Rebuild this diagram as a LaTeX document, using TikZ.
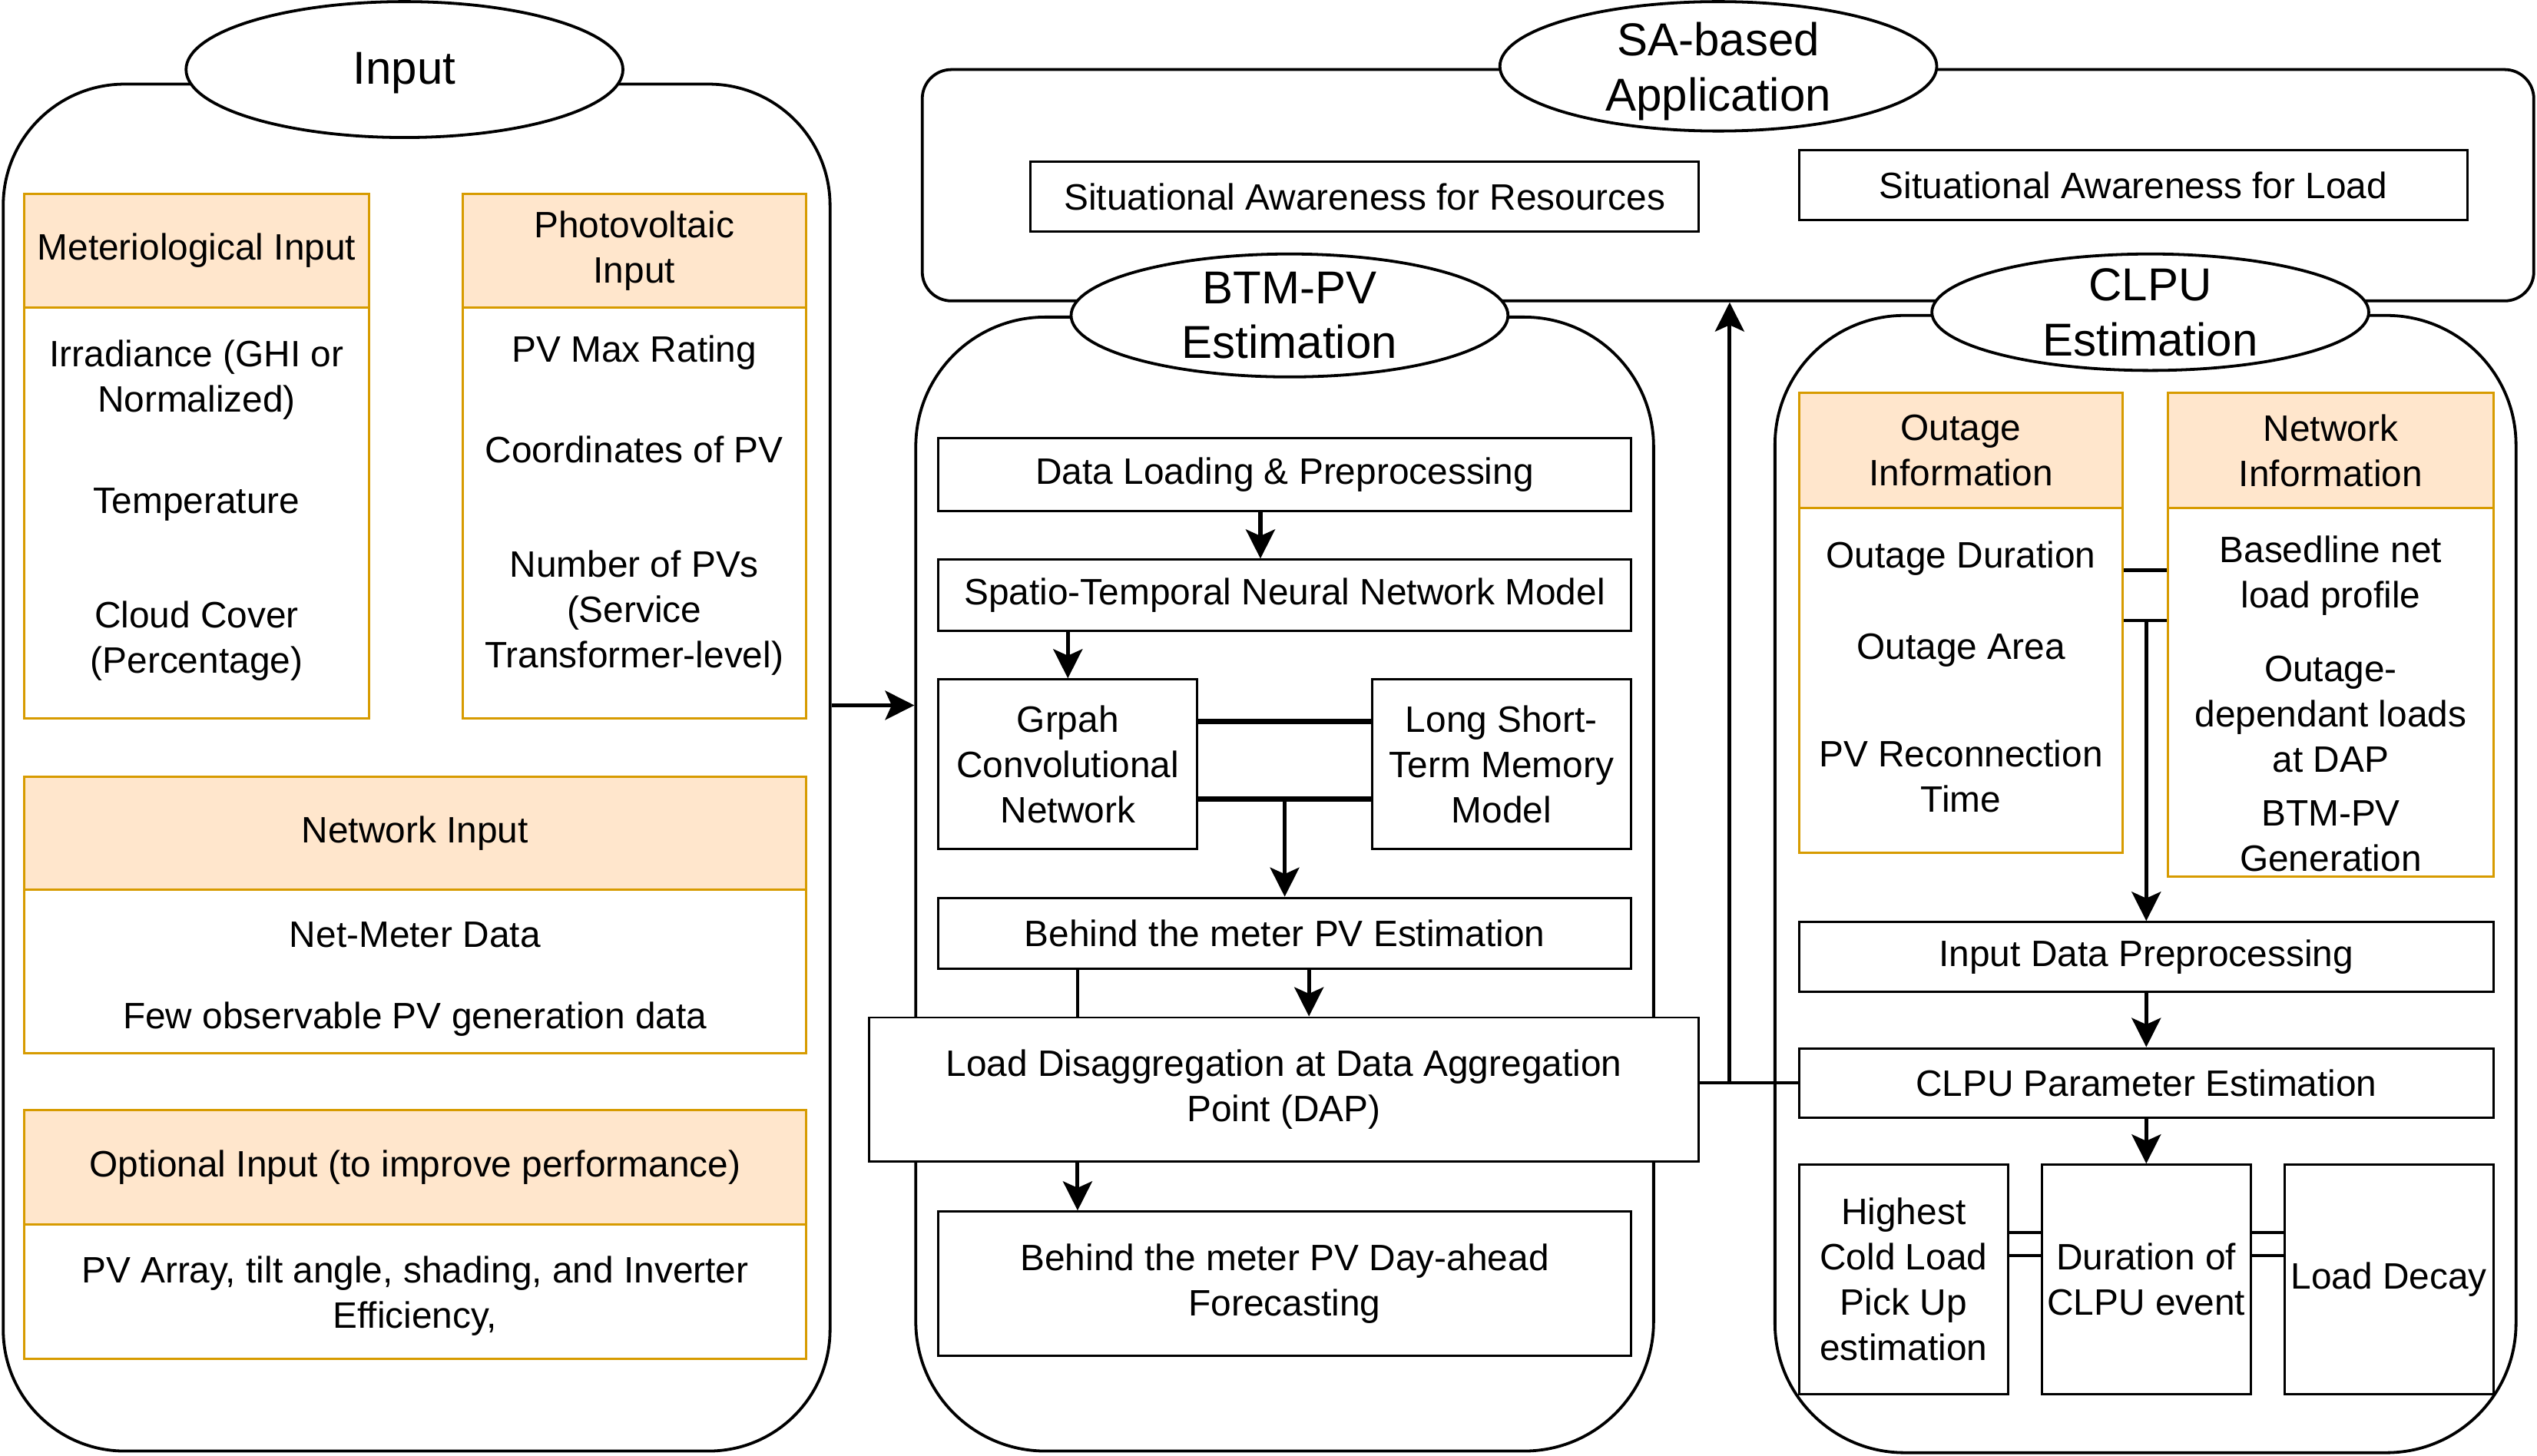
\documentclass[tikz,border=0pt]{standalone}
\usepackage{fontspec}
\setmainfont{Liberation Sans}
\usetikzlibrary{shapes.geometric,arrows.meta}
\definecolor{hdrfill}{HTML}{FFE6CC}
\definecolor{hdrline}{HTML}{D79B00}
\begin{document}
\begin{tikzpicture}[x=1pt, y=-1pt,
  panel/.style={draw=black, line width=1.8pt, fill=white},
  titleell/.style={shape=ellipse, draw=black, line width=1.8pt, fill=white, inner sep=0pt},
  titletxt/.style={align=center, font=\fontsize{28.5}{34}\selectfont},
  hdrbox/.style={draw=hdrline, fill=hdrfill, line width=1.4pt, inner sep=0pt, align=center, font=\fontsize{22.7}{28}\selectfont},
  bodybox/.style={draw=hdrline, fill=white, line width=1.4pt, inner sep=0pt},
  plainbox/.style={draw=black, fill=white, line width=1.4pt, inner sep=0pt, align=center, font=\fontsize{22.7}{28}\selectfont},
  itemtxt/.style={align=center, font=\fontsize{22.7}{28}\selectfont, yshift=-2pt},
  arr/.style={-{Stealth[length=18pt,width=18pt,inset=4pt]}, line width=2.4pt},
  ln/.style={line width=2pt},
  thk/.style={line width=3pt},
]
\useasboundingbox (0,0) rectangle (1568,900);
%%%input panel
\node[panel, rounded corners=75pt, minimum width=511pt, minimum height=845pt] (inpanel) at (257.5,474.5) {};
\node[titleell, minimum width=270pt, minimum height=84pt] (inell) at (250,43) {};
\node[titletxt, yshift=-2pt] at (inell) {Input};

\node[hdrbox, minimum width=213pt, minimum height=70pt] (methdr) at (121.5,155) {Meteriological Input};
\node[bodybox, minimum width=213pt, minimum height=254pt] (metbody) at (121.5,317) {};
\node[itemtxt] (irr) at (121.5,233) {Irradiance (GHI or\\Normalized)};
\node[itemtxt] (temp) at (121.5,310) {Temperature};
\node[itemtxt] (cloud) at (121.5,394) {Cloud Cover\\(Percentage)};

\node[hdrbox, minimum width=212pt, minimum height=70pt] (pvhdr) at (392,155) {Photovoltaic\\Input};
\node[bodybox, minimum width=212pt, minimum height=254pt] (pvbody) at (392,317) {};
\node[itemtxt] (pvmax) at (392,216) {PV Max Rating};
\node[itemtxt] (pvcoord) at (392,276) {Coordinates of PV};
\node[itemtxt] (pvnum) at (392,377) {Number of PVs\\(Service\\Transformer-level)};

\node[hdrbox, minimum width=483pt, minimum height=70pt] (nethdr) at (256.5,515) {Network Input};
\node[bodybox, minimum width=483pt, minimum height=101pt] (netbody) at (256.5,600.5) {};
\node[itemtxt] (netmeter) at (256.5,576) {Net-Meter Data};
\node[itemtxt] (fewpv) at (256.5,628) {Few observable PV generation data};

\node[hdrbox, minimum width=483pt, minimum height=71pt] (opthdr) at (256.5,721.5) {Optional Input (to improve performance)};
\node[bodybox, minimum width=483pt, minimum height=83pt] (optbody) at (256.5,798.5) {};
\node[itemtxt] (optitem) at (256.5,799) {PV Array, tilt angle, shading, and Inverter\\Efficiency,};
%%%%%%%%%

%%%SA panel
\node[panel, rounded corners=18pt, minimum width=996pt, minimum height=143pt] (sapanel) at (1068,114.5) {};
\node[titleell, minimum width=270pt, minimum height=80pt] (saell) at (1062,41) {};
\node[titletxt, yshift=-3pt] at (saell) {SA-based\\Application};
\node[plainbox, minimum width=413pt, minimum height=43pt] (sares) at (843.5,121.5) {Situational Awareness for Resources};
\node[plainbox, minimum width=413pt, minimum height=43pt] (saload) at (1318.5,114.5) {Situational Awareness for Load};
%%%%%%%%%

%%%BTM-PV panel
\node[panel, rounded corners=80pt, minimum width=456pt, minimum height=701pt] (btmpanel) at (794,546.5) {};
\node[titleell, minimum width=270pt, minimum height=76pt] (btmell) at (797,195) {};
\node[titletxt] at (btmell) {BTM-PV\\Estimation};

\node[plainbox, minimum width=428pt, minimum height=45pt] (dload) at (794,293.5) {Data Loading \& Preprocessing};
\node[plainbox, minimum width=428pt, minimum height=44pt] (stnn) at (794,368) {Spatio-Temporal Neural Network Model};
\node[plainbox, minimum width=160pt, minimum height=105pt] (gcn) at (660,472.5) {Grpah\\Convolutional\\Network};
\node[plainbox, minimum width=160pt, minimum height=105pt] (lstm) at (928,472.5) {Long Short-\\Term Memory\\Model};
\node[plainbox, minimum width=428pt, minimum height=44pt] (btmest) at (794,577) {Behind the meter PV Estimation};
\node[plainbox, minimum width=513pt, minimum height=89pt] (ldis) at (793.5,673.5) {Load Disaggregation at Data Aggregation\\Point (DAP)};
\node[plainbox, minimum width=428pt, minimum height=89pt] (fcast) at (794,793.5) {Behind the meter PV Day-ahead\\Forecasting};

\draw[arr] ([xshift=-15pt]dload.south) -- ([xshift=-15pt]stnn.north);
\draw[arr] (gcn.north |- stnn.south) -- (gcn.north);
\draw[thk] ([yshift=26.5pt]gcn.east) -- ([yshift=26.5pt]lstm.west);
\coordinate (j1) at ([yshift=-21.5pt]gcn.east);
\draw[thk] (j1) -- ([yshift=-21.5pt]lstm.west);
\draw[arr] (btmest.north |- j1) -- (btmest.north);
\draw[arr] ([xshift=15pt]btmest.south) -- ([xshift=15pt]btmest.south |- ldis.north);
\draw[ln] ([xshift=-128pt]btmest.south) -- ([xshift=-128pt]btmest.south |- ldis.north);
\draw[arr] ([xshift=-128pt]btmest.south |- ldis.south) -- ([xshift=-128pt]fcast.north);
%%%%%%%%%

%%%CLPU panel
\node[panel, rounded corners=80pt, minimum width=458pt, minimum height=703pt] (clpupanel) at (1326,546.5) {};
\node[titleell, minimum width=270pt, minimum height=72pt] (clpuell) at (1329,193) {};
\node[titletxt] at (clpuell) {CLPU\\Estimation};

\node[hdrbox, minimum width=200pt, minimum height=71pt] (outhdr) at (1212,278.5) {Outage\\Information};
\node[bodybox, minimum width=200pt, minimum height=213pt] (outbody) at (1212,420.5) {};
\node[itemtxt] (outdur) at (1212,343) {Outage Duration};
\node[itemtxt] (outarea) at (1212,400) {Outage Area};
\node[itemtxt] (pvrec) at (1212,478) {PV Reconnection\\Time};

\node[hdrbox, minimum width=201pt, minimum height=71pt] (nwhdr) at (1440.5,278.5) {Network\\Information};
\node[bodybox, minimum width=201pt, minimum height=227.5pt] (nwbody) at (1440.5,428) {};
\node[itemtxt] (baseline) at (1440.5,354) {Basedline net\\load profile};
\node[itemtxt] (outdep) at (1440.5,439.5) {Outage-\\dependant loads\\at DAP};
\node[itemtxt] (btmgen) at (1440.5,515) {BTM-PV\\Generation};

\node[plainbox, minimum width=429pt, minimum height=43pt] (inprep) at (1326.5,591.5) {Input Data Preprocessing};
\node[plainbox, minimum width=429pt, minimum height=43pt] (clpupar) at (1326.5,669.5) {CLPU Parameter Estimation};
\node[plainbox, minimum width=129pt, minimum height=142pt] (hcl) at (1176.5,791) {Highest\\Cold Load\\Pick Up\\estimation};
\node[plainbox, minimum width=129pt, minimum height=142pt] (dur) at (1326.5,791) {Duration of\\CLPU event};
\node[plainbox, minimum width=129pt, minimum height=142pt] (ldec) at (1476.5,791) {Load Decay};

\draw[ln] ([yshift=68pt]outbody.east) -- ([yshift=68pt]outbody.east -| nwbody.west);
\coordinate (j2) at ([yshift=37pt]outbody.east);
\draw[ln] (j2) -- (j2 -| nwbody.west);
\draw[arr] (inprep.north |- j2) -- (inprep.north);
\draw[arr] (inprep.south) -- (clpupar.north);
\draw[arr] (clpupar.south) -- (dur.north);
\draw[ln] ([yshift=29pt]hcl.east) -- ([yshift=29pt]dur.west);
\draw[ln] ([yshift=15pt]hcl.east) -- ([yshift=15pt]dur.west);
\draw[ln] ([yshift=29pt]dur.east) -- ([yshift=29pt]ldec.west);
\draw[ln] ([yshift=15pt]dur.east) -- ([yshift=15pt]ldec.west);
%%%%%%%%%

%%%links between panels
\coordinate (mid) at (540,436);
\draw[arr] (inpanel.east |- mid) -- (btmpanel.west |- mid);
\coordinate (up) at (1069,669);
\draw[ln] (ldis.east |- clpupar.west) -- (clpupar.west);
\draw[arr] (up |- clpupar.west) -- (up |- sapanel.south);
\end{tikzpicture}
\end{document}
